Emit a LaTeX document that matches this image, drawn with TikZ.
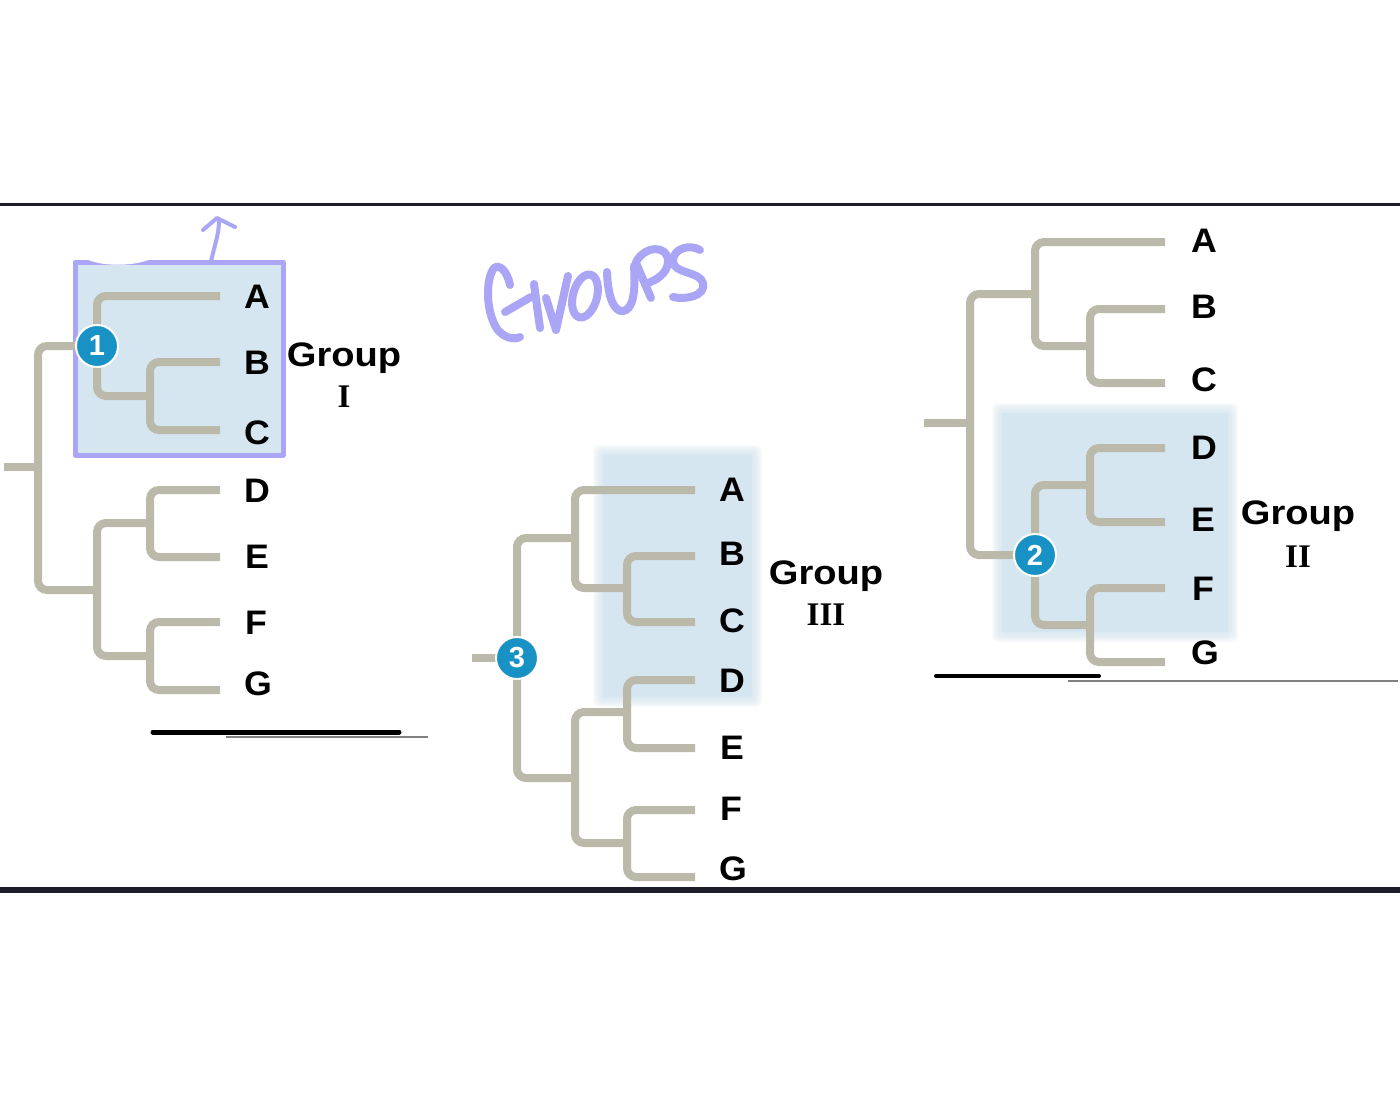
\documentclass[tikz,border=0pt]{standalone}
\usepackage{fontspec}
\setmainfont{Liberation Sans}
\newfontfamily\romanfont{Liberation Serif}
\newfontfamily\widefont{Liberation Sans}[FakeStretch=1.12]
\newfontfamily\leaffont{Liberation Sans}[FakeStretch=1.05]
\definecolor{treegray}{RGB}{186,185,170}
\definecolor{shadeblue}{RGB}{214,230,240}
\definecolor{lav}{RGB}{170,165,245}
\definecolor{badgeblue}{RGB}{24,146,196}
\definecolor{rulecol}{RGB}{30,30,42}
\tikzset{
  branch/.style={line width=8pt, draw=treegray, rounded corners=9pt},
  stub/.style={line width=8pt, draw=treegray},
  leaf/.style={font=\leaffont\fontsize{34}{34}\selectfont\bfseries, inner sep=0pt, anchor=center},
  grptext/.style={font=\widefont\fontsize{34}{34}\selectfont\bfseries, inner sep=0pt, anchor=base},
  grpnum/.style={font=\romanfont\fontsize{33}{33}\selectfont\bfseries, inner sep=0pt, anchor=base},
  badge/.style={circle, fill=badgeblue, draw=white, line width=2pt, minimum size=42pt, inner sep=0pt, text=white, font=\fontsize{29}{29}\selectfont\bfseries},
  hand/.style={draw=lav, line width=8pt, line cap=round, line join=round}
}
\begin{document}
\begin{tikzpicture}[x=1pt,y=-1pt]
\useasboundingbox (0,0) rectangle (1400,1100);
\fill[white] (0,0) rectangle (1400,1100);

% frame rules
\draw[rulecol, line width=3pt] (0,204) -- (1400,204);
\draw[rulecol, line width=6pt] (0,890) -- (1400,890);

% ---------- soft shadings ----------
\foreach \d in {10,9,...,1}{
  \fill[shadeblue, opacity=0.13, rounded corners=6pt] (603-\d,455-\d) rectangle (752+\d,697+\d);
  \fill[shadeblue, opacity=0.13, rounded corners=6pt] (1002-\d,413-\d) rectangle (1228+\d,632+\d);
}
\fill[shadeblue] (603,455) rectangle (752,697);
\fill[shadeblue] (1002,413) rectangle (1228,632);
\fill[shadeblue] (75,262) rectangle (283,455);

% lavender box of group I
\draw[lav, line width=5pt, line join=round] (75,262) rectangle (283,455);
\fill[white] (84,258) .. controls (100,267) and (135,267) .. (153,258) -- (153,240) -- (84,240) -- cycle;
\draw[lav, line width=4pt, line cap=round] (211,262) .. controls (214,246) and (219,236) .. (219,220);
\draw[lav, line width=4pt, line cap=round, line join=round] (203,230) -- (217,218) -- (235,227);

% handwritten "Groups"
\draw[hand] (510,285) .. controls (507,270) and (499,264) .. (494,268) .. controls (486,278) and (485,310) .. (497,329) .. controls (504,338) and (514,340) .. (520,337);
\draw[hand] (505,312) -- (531,297);
\draw[hand] (534,284) -- (540,328);
\draw[hand] (546,298) -- (556,330) -- (568,276);
\draw[hand, rotate around={-15:(585,296)}] (585,296) ellipse [x radius=12, y radius=22];
\draw[hand] (607,272) .. controls (608,300) and (615,312) .. (623,311) .. controls (632,310) and (636,295) .. (634,266);
\draw[hand] (636,263) -- (651,298);
\draw[hand] (636,262) .. controls (645,245) and (668,245) .. (668,261) .. controls (668,274) and (655,281) .. (645,284);
\draw[hand] (700,250) .. controls (690,244) and (673,248) .. (673,261) .. controls (673,274) and (700,271) .. (703,283) .. controls (706,296) and (686,300) .. (673,297);

% ---------- tree 1 ----------
\draw[stub] (4,467) -- (38,467);
\draw[branch] (97,346) -- (38,346) -- (38,590) -- (97,590);
\draw[branch] (220,296) -- (97,296) -- (97,396) -- (150,396);
\draw[branch] (220,362) -- (150,362) -- (150,430) -- (220,430);
\draw[branch] (150,523) -- (97,523) -- (97,656) -- (150,656);
\draw[branch] (220,490) -- (150,490) -- (150,557) -- (220,557);
\draw[branch] (220,622) -- (150,622) -- (150,690) -- (220,690);
\node[badge] (b1) at (97,346) {1};
\node[leaf] (t1a) at (257,297) {A};
\node[leaf] (t1b) at (257,363) {B};
\node[leaf] (t1c) at (257,433) {C};
\node[leaf] (t1d) at (257,491) {D};
\node[leaf] (t1e) at (257,557) {E};
\node[leaf] (t1f) at (256,623) {F};
\node[leaf] (t1g) at (258,684) {G};
\node[grptext] (g1) at (344,366) {Group};
\node[grpnum] (g1n) at (344,407) {I};
\draw[black, line width=5pt, line cap=round] (153,732) -- (399,732);
\draw[black!50, line width=2pt] (226,737) -- (428,737);

% ---------- tree 2 ----------
\draw[stub] (472,658) -- (517,658);
\draw[branch] (575,538) -- (517,538) -- (517,778) -- (575,778);
\draw[branch] (695,490) -- (575,490) -- (575,588) -- (627,588);
\draw[branch] (695,556) -- (627,556) -- (627,622) -- (695,622);
\draw[branch] (627,712) -- (575,712) -- (575,843) -- (627,843);
\draw[branch] (695,680) -- (627,680) -- (627,748) -- (695,748);
\draw[branch] (695,810) -- (627,810) -- (627,877) -- (695,877);
\node[badge] (b3) at (517,658) {3};
\node[leaf] (t2a) at (732,490) {A};
\node[leaf] (t2b) at (732,554) {B};
\node[leaf] (t2c) at (732,621) {C};
\node[leaf] (t2d) at (732,681) {D};
\node[leaf] (t2e) at (732,748) {E};
\node[leaf] (t2f) at (731,809) {F};
\node[leaf] (t2g) at (733,869) {G};
\node[grptext] (g3) at (826,584) {Group};
\node[grpnum] (g3n) at (826,625) {III};

% ---------- tree 3 ----------
\draw[stub] (924,423) -- (970,423);
\draw[branch] (1035,294) -- (970,294) -- (970,555) -- (1035,555);
\draw[branch] (1165,242) -- (1035,242) -- (1035,346) -- (1090,346);
\draw[branch] (1165,309) -- (1090,309) -- (1090,383) -- (1165,383);
\draw[branch] (1090,485) -- (1035,485) -- (1035,625) -- (1090,625);
\draw[branch] (1165,448) -- (1090,448) -- (1090,522) -- (1165,522);
\draw[branch] (1165,588) -- (1090,588) -- (1090,662) -- (1165,662);
\node[badge] (b2) at (1035,555) {2};
\node[leaf] (t3a) at (1204,241) {A};
\node[leaf] (t3b) at (1204,307) {B};
\node[leaf] (t3c) at (1204,380) {C};
\node[leaf] (t3d) at (1204,448) {D};
\node[leaf] (t3e) at (1203,520) {E};
\node[leaf] (t3f) at (1203,589) {F};
\node[leaf] (t3g) at (1205,653) {G};
\node[grptext] (g2) at (1298,524) {Group};
\node[grpnum] (g2n) at (1298,567) {II};
\draw[black, line width=4pt, line cap=round] (936,676) -- (1099,676);
\draw[black!50, line width=2pt] (1068,681) -- (1398,681);
\end{tikzpicture}
\end{document}
